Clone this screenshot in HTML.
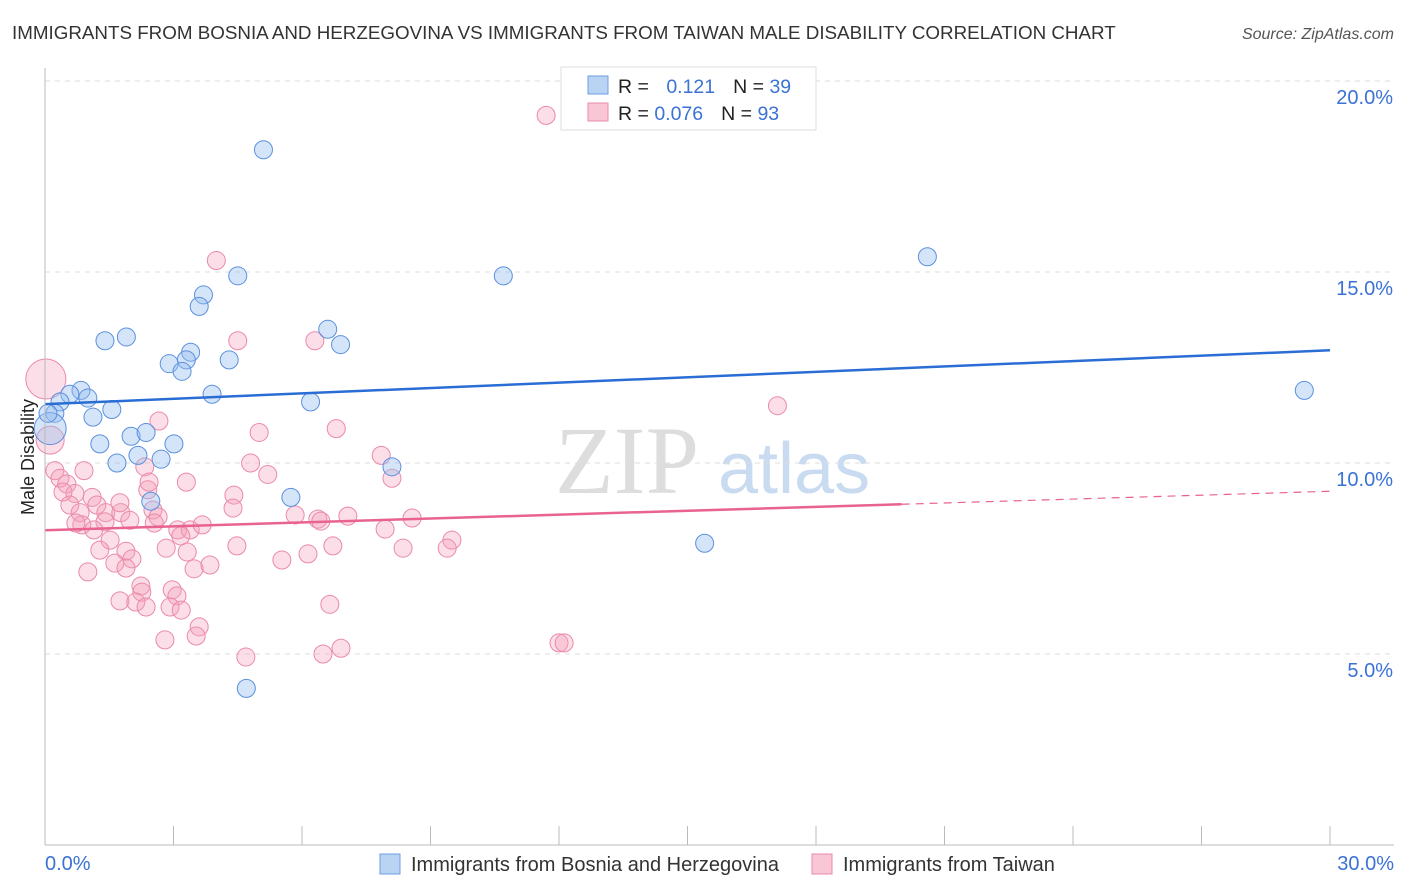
<!DOCTYPE html>
<html><head><meta charset="utf-8"><style>
body{margin:0;background:#fff;font-family:"Liberation Sans",sans-serif}
svg{display:block}
</style></head><body>
<svg width="1406" height="892">
<text x="12" y="39" font-size="18.8" fill="#333">IMMIGRANTS FROM BOSNIA AND HERZEGOVINA VS IMMIGRANTS FROM TAIWAN MALE DISABILITY CORRELATION CHART</text>
<text x="1394" y="39" font-size="16" fill="#555" text-anchor="end" font-style="italic">Source: ZipAtlas.com</text>
<text x="555" y="493" font-size="96" fill="#ddd" font-family="Liberation Serif">ZIP</text>
<text x="718" y="493" font-size="72" fill="#c9dbf0">atlas</text>
<g id="grid"></g><g id="pts"></g><g id="lines"></g>
<line x1="45" y1="68" x2="45" y2="845" stroke="#bbb"/>
<text transform="translate(34,457) rotate(-90)" font-size="18" fill="#222" text-anchor="middle">Male Disability</text>
<rect x="561" y="67" width="255" height="63" fill="#fff" stroke="#ddd"/>
<rect x="588" y="76" width="20" height="18" fill="#b9d3f3" stroke="#6c9fe0"/>
<rect x="588" y="103" width="20" height="18" fill="#f9c6d5" stroke="#eb8aaa"/>
<text x="618" y="93" font-size="19.5" fill="#222">R = <tspan fill="#3a72d6" dx="12">0.121</tspan><tspan fill="#222" dx="18">N = </tspan><tspan fill="#3a72d6">39</tspan></text>
<text x="618" y="120" font-size="19.5" fill="#222">R = <tspan fill="#3a72d6">0.076</tspan><tspan fill="#222" dx="18">N = </tspan><tspan fill="#3a72d6">93</tspan></text>
<rect x="380" y="854" width="20" height="20" fill="#b9d3f3" stroke="#6c9fe0"/>
<text x="411" y="871" font-size="20" fill="#333">Immigrants from Bosnia and Herzegovina</text>
<rect x="812" y="854" width="20" height="20" fill="#f9c6d5" stroke="#eb8aaa"/>
<text x="843" y="871" font-size="20" fill="#333">Immigrants from Taiwan</text>
<text x="45" y="870" font-size="20" fill="#3a72d6">0.0%</text>
<text x="1394" y="870" font-size="20" fill="#3a72d6" text-anchor="end">30.0%</text>
</svg>
<script>
const yTicks=[5,10,15,20];
const yTickLabels=["5.0%","10.0%","15.0%","20.0%"];
const blueX=[5.1,4.5,3.7,3.6,1.9,1.4,6.6,6.9,3.4,3.3,2.9,3.2,4.3,3.9,0.84,0.58,1.0,0.35,0.23,1.56,1.12,6.2,1.28,2.01,2.36,3.01,1.68,2.17,2.71,8.1,5.74,2.47,10.7,20.6,29.4,15.4,4.7,0.12,0.07];
const blueY=[18.2,14.9,14.4,14.1,13.3,13.2,13.5,13.1,12.9,12.7,12.6,12.4,12.7,11.8,11.9,11.8,11.7,11.6,11.3,11.4,11.2,11.6,10.5,10.7,10.8,10.5,10.0,10.2,10.1,9.9,9.1,9.0,14.9,15.4,11.9,7.9,4.1,10.9,11.3];
const blueR=[9,9,9,9,9,9,9,9,9,9,9,9,9,9,9,9,9,9,9,9,9,9,9,9,9,9,9,9,9,9,9,9,9,9,9,9,9,16,9];
const pinkX=[11.7,4.0,4.5,6.3,2.66,5.0,6.8,4.8,7.85,8.1,5.2,3.3,2.33,0.23,0.35,0.51,0.7,0.42,1.1,1.21,0.58,0.82,1.42,1.77,2.4,2.52,2.64,1.98,1.4,0.86,0.72,1.14,2.55,3.1,3.39,3.17,3.67,5.84,6.37,6.44,7.07,8.57,7.94,9.5,9.39,8.36,6.72,6.14,5.53,4.48,3.32,2.83,1.52,1.28,1.89,2.03,1.63,1.89,3.85,3.48,1.0,2.24,2.26,2.97,3.08,1.75,2.12,2.36,2.92,3.18,6.65,3.6,3.53,2.8,4.69,6.49,6.91,12.0,12.12,17.1,4.41,4.39,2.43,0.91,1.75,0.02,0.12];
const pinkY=[19.1,15.3,13.2,13.2,11.1,10.8,10.9,10.0,10.2,9.6,9.7,9.5,9.9,9.8,9.6,9.45,9.2,9.24,9.1,8.9,8.9,8.7,8.7,8.7,9.3,8.77,8.59,8.5,8.46,8.38,8.43,8.25,8.43,8.25,8.25,8.09,8.38,8.64,8.53,8.48,8.61,8.56,8.27,7.98,7.77,7.77,7.83,7.62,7.46,7.83,7.67,7.77,7.98,7.72,7.69,7.49,7.38,7.25,7.33,7.23,7.15,6.78,6.62,6.68,6.52,6.39,6.36,6.23,6.23,6.15,6.3,5.71,5.47,5.37,4.92,5.0,5.15,5.29,5.29,11.5,9.16,8.82,9.5,9.8,8.96,12.2,10.6];
const W0=45,W1=1330,Y0=845,YPX=38.2;
const sx=v=>W0+(W1-W0)*v/30, sy=v=>Y0-YPX*v;
const NS='http://www.w3.org/2000/svg';
function mk(t,a,p){const e=document.createElementNS(NS,t);for(const k in a)e.setAttribute(k,a[k]);p.appendChild(e);return e;}
const grid=document.getElementById('grid');
yTicks.forEach((t,i)=>{
 const l=mk('line',{x1:W0,x2:1394,y1:sy(t),y2:sy(t),stroke:'#ddd','stroke-dasharray':'5,5'},grid);
 
 
 const tx=mk('text',{x:1393,y:sy(t)+23,'font-size':20,fill:'#3a72d6','text-anchor':'end'},grid);
 tx.textContent=yTickLabels[i];
 
 
});
for(let i=0;i<=10;i++){
 const l=mk('line',{x1:sx(i*3),x2:sx(i*3),y1:826,y2:845,stroke:'#bbb'},grid);
 
 
}
const bl=mk('line',{x1:W0,x2:1394,y1:845,y2:845,stroke:'#bbb'},grid);


const pts=document.getElementById('pts');
pinkX.forEach((x,i)=>{
 const c=mk('circle',{cx:sx(x),cy:sy(pinkY[i]),r:(i>=pinkX.length-2?(i==pinkX.length-2?20:14):9),fill:'rgba(244,160,187,0.35)',stroke:'#eb8aaa','stroke-width':1},pts);
 
 
});
blueX.forEach((x,i)=>{
 const c=mk('circle',{cx:sx(x),cy:sy(blueY[i]),r:blueR[i],fill:'rgba(150,190,240,0.4)',stroke:'#5b90de','stroke-width':1},pts);
 
 
});
const lines=document.getElementById('lines');
const blueTrend=[11.54,12.95], pinkTrend=[8.24,9.26];
let l1=mk('line',{x1:sx(0),y1:sy(blueTrend[0]),x2:sx(30),y2:sy(blueTrend[1]),stroke:'#2a6dd4','stroke-width':2.5},lines);


const pe=pinkTrend[0]+(pinkTrend[1]-pinkTrend[0])*20/30;
let l2=mk('line',{x1:sx(0),y1:sy(pinkTrend[0]),x2:sx(20),y2:sy(pe),stroke:'#e8638f','stroke-width':2.5},lines);


let l3=mk('line',{x1:sx(20),y1:sy(pe),x2:sx(30),y2:sy(pinkTrend[1]),stroke:'#e8638f','stroke-width':1.2,'stroke-dasharray':'8,6'},lines);


</script>
</body></html>
